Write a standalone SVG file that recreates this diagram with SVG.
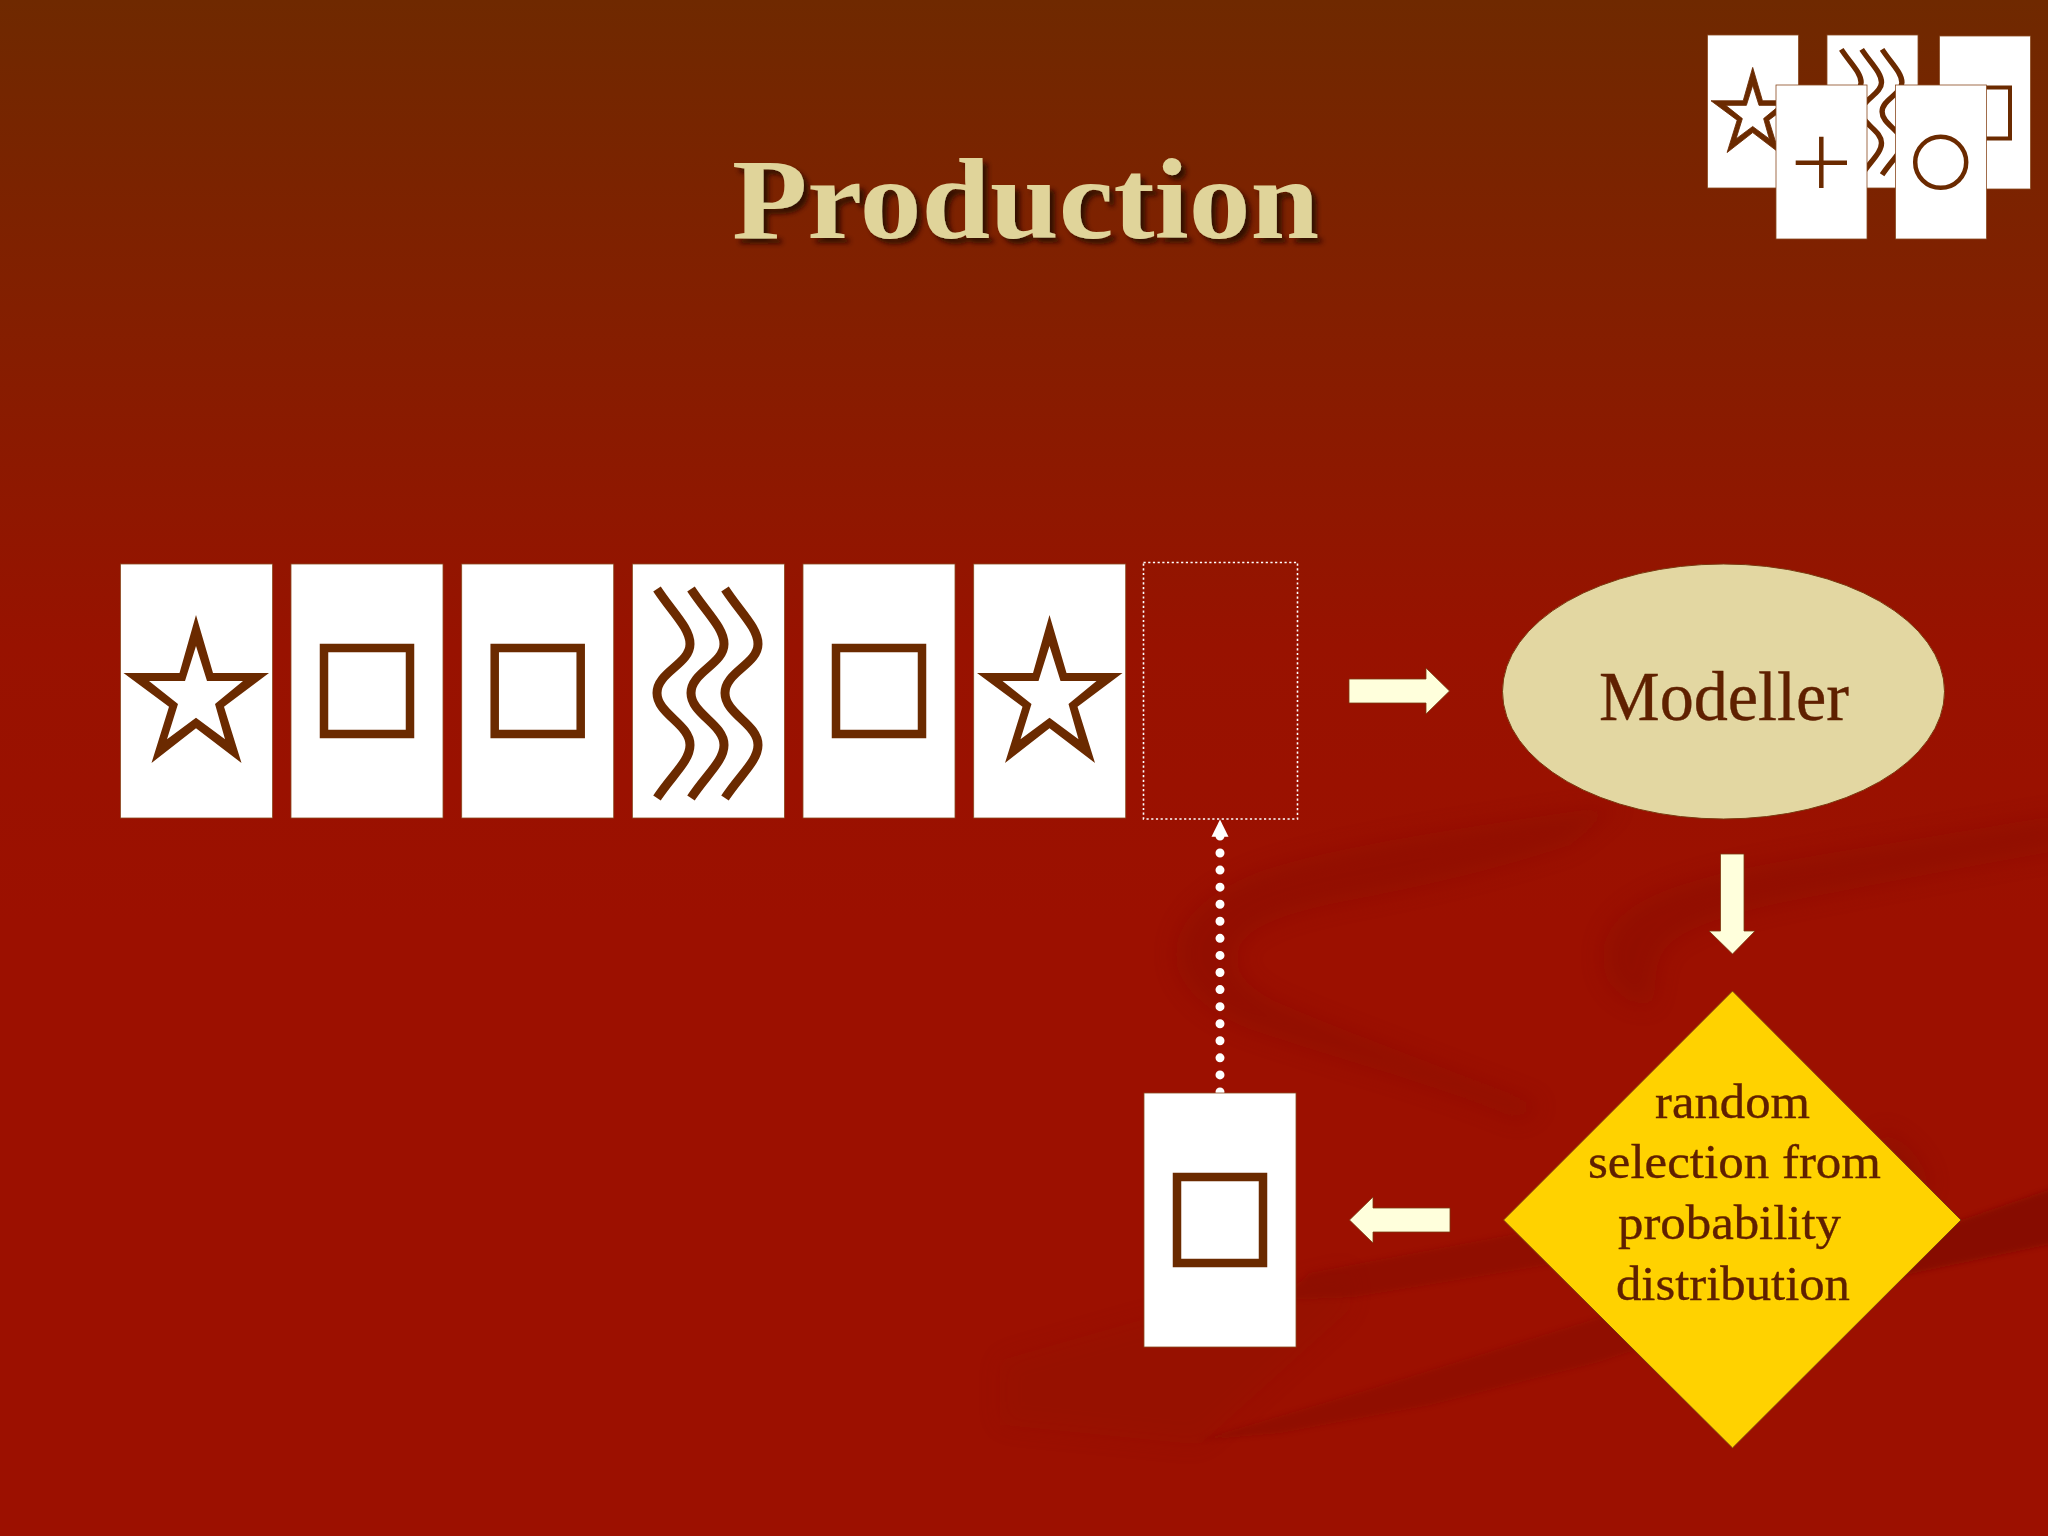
<svg xmlns="http://www.w3.org/2000/svg" xmlns:xlink="http://www.w3.org/1999/xlink" width="2048" height="1536" viewBox="0 0 2048 1536">
<style>
.card{fill:#fff;stroke:#8a4a20;stroke-width:.8}
.ink{fill:none;stroke:#6b2a00;stroke-linejoin:miter}
.arrow{fill:#ffffdc;stroke:#7a3a10;stroke-width:.8}
text{font-family:"Liberation Serif","Times New Roman",serif;fill:#5f2000;stroke:#5f2000;stroke-width:.35}
.label{font-size:49px}
</style>
<defs>
<linearGradient id="bg" x1="0" y1="0" x2="0" y2="1">
<stop offset="0" stop-color="#6f2900"/>
<stop offset=".2" stop-color="#831f00"/>
<stop offset=".42" stop-color="#981200"/>
<stop offset=".6" stop-color="#9c1000"/>
<stop offset="1" stop-color="#9c1000"/>
</linearGradient>
<filter id="soft" x="-15%" y="-30%" width="130%" height="160%"><feGaussianBlur stdDeviation="11"/></filter>
<filter id="softer" x="-10%" y="-20%" width="120%" height="140%"><feGaussianBlur stdDeviation="2.5"/></filter>
<filter id="shadow" x="-5%" y="-20%" width="110%" height="140%"><feDropShadow dx="5" dy="5" stdDeviation="2.5" flood-color="#2e0c00" flood-opacity=".95"/></filter>
<path id="star" fill="#6b2a00" fill-rule="evenodd" d="M196,615 L213,673 L269,673 L224,706.7 L241.5,763 L196,728.3 L151.5,763 L169,706.7 L123.5,673 L179.5,673 Z M196,646 L185,681 L149,681 L178,704 L167,739.3 L196,717.7 L225,739.3 L215,704 L243,681 L207,681 Z"/>
<path id="wave" d="M657,589 C672,612 690,628 690,644 C690,664 657,672 657,693 C657,714 690,724 690,745 C690,761 672,775 657,798"/>
<g id="waves" class="ink" stroke-width="9">
<use xlink:href="#wave" href="#wave"/>
<use xlink:href="#wave" href="#wave" x="34"/>
<use xlink:href="#wave" href="#wave" x="68"/>
</g>
<rect id="sq" x="324" y="648" width="86" height="86" class="ink" stroke-width="8.5"/>
</defs>

<g id="background">
<rect width="2048" height="1536" fill="url(#bg)"/>
<g filter="url(#soft)" fill="#870f00" opacity=".42">
<path d="M1620,805 C1480,825 1340,845 1259,872 C1200,895 1176,925 1176,955 C1176,985 1205,1010 1247,1028 C1340,1060 1440,1085 1520,1120 L1540,1105 C1450,1070 1340,1030 1272,1000 C1245,985 1232,970 1238,950 C1246,925 1290,912 1350,900 C1430,885 1500,868 1570,845 Z"/>
<path d="M2060,815 C1960,832 1900,842 1837,852 C1760,865 1680,878 1636,905 C1606,925 1596,950 1608,980 C1618,995 1632,1005 1650,1005 C1660,985 1650,965 1668,945 C1690,925 1730,915 1770,905 C1870,885 1960,868 2060,850 Z"/>
<path d="M1000,1360 L1140,1320 L1350,1270 L1350,1310 L1200,1445 L1000,1425 Z" opacity=".45"/>
<path d="M1880,1130 C1905,1140 1925,1160 1930,1190 L1880,1200 Z"/>
</g>
<g filter="url(#softer)" fill="#880f00" opacity=".55">
<path d="M1620,1215 L1500,1237 L1310,1273 L1280,1300 L1354,1297 L1559,1263 L1620,1250 Z"/>
<path d="M1640,1305 L1368,1390 L1200,1440 L1280,1433 L1430,1405 L1595,1363 L1650,1345 Z"/>
</g>
<g filter="url(#softer)" fill="#851000" opacity=".9">
<path d="M2060,1186 L1939,1228 L1880,1250 L1900,1276 L2060,1242 Z"/>
</g>
</g>

<g id="title">
<text x="732" y="238" font-size="114" font-weight="bold" textLength="587" lengthAdjust="spacingAndGlyphs" filter="url(#shadow)" style="fill:#e0d49a;stroke:none">Production</text>
</g>

<g id="legend">
<rect class="card" x="1707.5" y="35" width="91" height="153"/>
<use xlink:href="#star" href="#star" transform="translate(1640,-286.2) scale(.575)" stroke="#6b2a00" stroke-width="1.5"/>
<rect class="card" x="1827" y="35" width="91" height="153"/>
<use xlink:href="#waves" href="#waves" transform="translate(1447.1,-304) scale(.6)"/>
<rect class="card" x="1939.5" y="36" width="91" height="153"/>
<rect x="1959" y="87.5" width="51" height="51" class="ink" stroke-width="4"/>
<rect class="card" x="1776" y="85" width="91" height="154"/>
<path class="ink" stroke-width="4.5" d="M1795.7,162.7 H1847 M1821.3,136.7 V188"/>
<rect class="card" x="1895.5" y="85" width="91" height="154"/>
<circle class="ink" stroke-width="4.5" cx="1940.7" cy="162.3" r="25.5"/>
</g>

<g id="connectors">
<polygon id="arrow-to-modeller" class="arrow" points="1349,679 1426,679 1426,668 1449.5,691 1426,714 1426,703 1349,703"/>
<polygon id="arrow-to-selection" class="arrow" points="1720.5,854 1744,854 1744,931 1755,931 1732.5,954 1709,931 1720.5,931"/>
<polygon id="arrow-to-card" class="arrow" points="1450,1208 1373,1208 1373,1197 1349.5,1220 1373,1243 1373,1232 1450,1232"/>
<g id="dotted-return">
<line x1="1220" y1="1092" x2="1220" y2="834" stroke="#fff" stroke-width="9" stroke-linecap="round" stroke-dasharray="0 17.07"/>
<polygon points="1220,819.5 1228.5,836.7 1211.5,836.7" fill="#fff"/>
</g>
</g>

<g id="sequence">
<g id="card-1"><rect class="card" x="120.5" y="564" width="152" height="254"/><use xlink:href="#star" href="#star"/></g>
<g id="card-2"><rect class="card" x="291" y="564" width="152" height="254"/><use xlink:href="#sq" href="#sq"/></g>
<g id="card-3"><rect class="card" x="461.7" y="564" width="152" height="254"/><use xlink:href="#sq" href="#sq" x="170.7"/></g>
<g id="card-4"><rect class="card" x="632.4" y="564" width="152" height="254"/><use xlink:href="#waves" href="#waves"/></g>
<g id="card-5"><rect class="card" x="803" y="564" width="152" height="254"/><use xlink:href="#sq" href="#sq" x="512"/></g>
<g id="card-6"><rect class="card" x="973.7" y="564" width="152" height="254"/><use xlink:href="#star" href="#star" x="853.5"/></g>
<rect id="empty-slot" x="1143.5" y="562.5" width="154" height="256.5" fill="none" stroke="#fff" stroke-width="1.6" stroke-dasharray="2.2 2.5"/>
</g>

<g id="modeller">
<ellipse cx="1723.5" cy="691.5" rx="221" ry="127.5" fill="#e3d7a2" stroke="#7a3a10" stroke-width="1"/>
<text x="1599" y="720" font-size="70" textLength="250" lengthAdjust="spacingAndGlyphs">Modeller</text>
</g>

<g id="selection">
<polygon points="1732.5,991 1961,1220 1732.5,1448 1503.5,1220" fill="#ffd200" stroke="#7a3a10" stroke-width="1"/>
<text class="label" x="1655" y="1118" textLength="155" lengthAdjust="spacingAndGlyphs">random</text>
<text class="label" x="1588" y="1178" textLength="293" lengthAdjust="spacingAndGlyphs">selection from</text>
<text class="label" x="1618" y="1239" textLength="223" lengthAdjust="spacingAndGlyphs">probability</text>
<text class="label" x="1616" y="1300" textLength="234" lengthAdjust="spacingAndGlyphs">distribution</text>
</g>

<g id="drawn-card">
<rect class="card" x="1144" y="1093" width="152" height="254"/>
<rect x="1177" y="1177" width="86" height="86" class="ink" stroke-width="8.5"/>
</g>
</svg>
